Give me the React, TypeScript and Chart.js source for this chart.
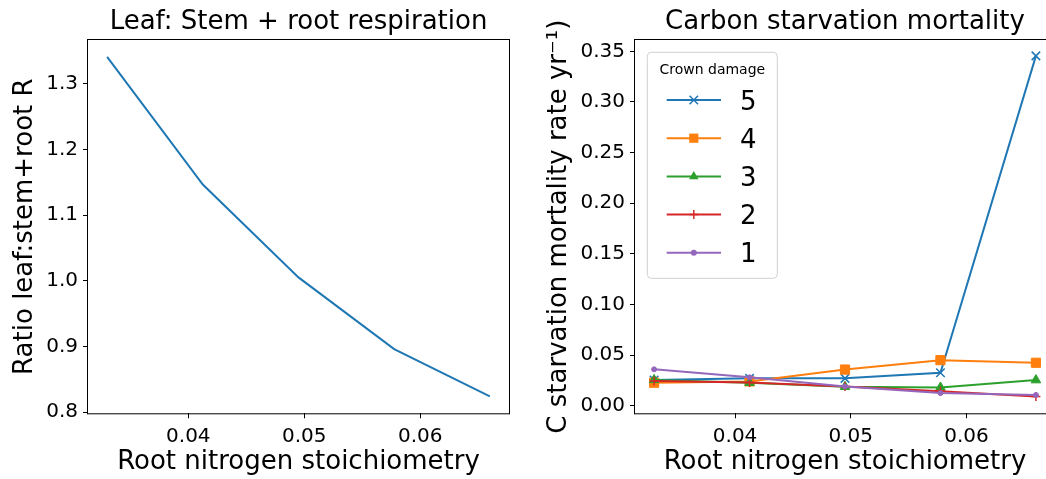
import React, { useEffect, useRef } from "react";
import { Chart, registerables } from "chart.js";

Chart.register(...registerables);

const FONT = "DejaVu Sans";
const BIG = 26;
const TICK = 20;

// ---- data ----
const rootN = [0.033, 0.04125, 0.0495, 0.05775, 0.066];
const leafRatio = [1.3405, 1.1465, 1.0052, 0.896, 0.8242];

const crownLabels = ["5", "4", "3", "2", "1"];
const crown5 = [0.0253, 0.027, 0.027, 0.0326, 0.3455];
const crown4 = [0.0227, 0.024, 0.0357, 0.045, 0.0424];
const crown3 = [0.0255, 0.0227, 0.0188, 0.018, 0.0253];
const crown2 = [0.0244, 0.023, 0.019, 0.0143, 0.009];
const crown1 = [0.0359, 0.028, 0.019, 0.0125, 0.0105];

const xTicks = [0.04, 0.05, 0.06];
const leftYTicks = [0.8, 0.9, 1.0, 1.1, 1.2, 1.3];
const rightYTicks = [0.0, 0.05, 0.1, 0.15, 0.2, 0.25, 0.3, 0.35];

const leftTitle = "Leaf: Stem + root respiration";
const rightTitle = "Carbon starvation mortality";
const xLabel = "Root nitrogen stoichiometry";
const leftYLabel = "Ratio leaf:stem+root R";
const rightYLabel = "C starvation mortality rate yr\u207B\u00B9)";
const legendTitle = "Crown damage";

const colors = ["#1f77b4", "#ff7f0e", "#2ca02c", "#d62728", "#9467bd"];
const styles = ["crossRot", "rect", "triangle", "cross", "circle"];
const radii = [6, 6.5, 5.5, 4.5, 2.5];

const crownSeries = [crown5, crown4, crown3, crown2, crown1];

const toPts = (ys: number[]) => rootN.map((x, i) => ({ x, y: ys[i] }));

const fixedTicks = (vals: number[]) => (scale: any) => {
  scale.ticks = vals.map((v) => ({ value: v }));
};

const framePlugin = {
  id: "frame",
  afterDatasetsDraw(chart: any, _a: any, opts: any) {
    const { ctx, chartArea } = chart;
    const { left, right, top, bottom } = chartArea;
    ctx.save();
    ctx.strokeStyle = "#000";
    ctx.lineWidth = 1;
    ctx.strokeRect(left - 0.5, top - 0.5, right - left + 1, bottom - top + 1);
    ctx.fillStyle = "#000";
    ctx.font = `${BIG}px "${FONT}"`;
    ctx.textAlign = "center";
    ctx.textBaseline = "alphabetic";
    ctx.fillText(opts.title, (left + right) / 2, 29);
    ctx.restore();
  },
};

function drawMarker(ctx: CanvasRenderingContext2D, style: string, x: number, y: number, r: number, color: string) {
  ctx.save();
  ctx.fillStyle = color;
  ctx.strokeStyle = color;
  ctx.beginPath();
  if (style === "crossRot") {
    const d = r * Math.SQRT1_2;
    ctx.lineWidth = 1.5;
    ctx.moveTo(x - d, y - d);
    ctx.lineTo(x + d, y + d);
    ctx.moveTo(x - d, y + d);
    ctx.lineTo(x + d, y - d);
    ctx.stroke();
  } else if (style === "rect") {
    const s = r * Math.SQRT1_2;
    ctx.rect(x - s, y - s, 2 * s, 2 * s);
    ctx.fill();
  } else if (style === "triangle") {
    ctx.moveTo(x, y - r);
    ctx.lineTo(x + r * Math.sin((2 * Math.PI) / 3), y - r * Math.cos((2 * Math.PI) / 3));
    ctx.lineTo(x + r * Math.sin((4 * Math.PI) / 3), y - r * Math.cos((4 * Math.PI) / 3));
    ctx.closePath();
    ctx.fill();
  } else if (style === "cross") {
    ctx.lineWidth = 1.5;
    ctx.moveTo(x, y - r);
    ctx.lineTo(x, y + r);
    ctx.moveTo(x - r, y);
    ctx.lineTo(x + r, y);
    ctx.stroke();
  } else {
    ctx.arc(x, y, r + 0.5, 0, Math.PI * 2);
    ctx.fill();
  }
  ctx.restore();
}

const legendPlugin = {
  id: "crownLegend",
  afterDatasetsDraw(chart: any) {
    const { ctx, chartArea } = chart;
    const bx = chartArea.left + 12.3;
    const by = chartArea.top + 12.3;
    const bw = 130;
    const bh = 226;
    ctx.save();
    ctx.beginPath();
    if (ctx.roundRect) ctx.roundRect(bx, by, bw, bh, 4);
    else ctx.rect(bx, by, bw, bh);
    ctx.fillStyle = "rgba(255,255,255,0.8)";
    ctx.fill();
    ctx.strokeStyle = "#d0d0d0";
    ctx.lineWidth = 1;
    ctx.stroke();
    ctx.fillStyle = "#000";
    ctx.font = `14px "${FONT}"`;
    ctx.textAlign = "center";
    ctx.textBaseline = "alphabetic";
    ctx.fillText(legendTitle, bx + bw / 2, by + 22);
    crownLabels.forEach((lab, i) => {
      const y = by + 47.7 + i * 38.2;
      ctx.strokeStyle = colors[i];
      ctx.lineWidth = 2;
      ctx.beginPath();
      ctx.moveTo(bx + 19.4, y);
      ctx.lineTo(bx + 73.7, y);
      ctx.stroke();
      drawMarker(ctx, styles[i], bx + 46.5, y, radii[i], colors[i]);
      ctx.fillStyle = "#000";
      ctx.font = `${BIG}px "${FONT}"`;
      ctx.textAlign = "left";
      ctx.fillText(lab, bx + 92.7, y + 9.5);
    });
    ctx.restore();
  },
};

function axisCommon() {
  return {
    grid: {
      display: true,
      drawOnChartArea: false,
      drawTicks: true,
      tickLength: 5,
      color: "#000",
      lineWidth: 1,
    },
    border: { display: false },
  };
}

function xScale() {
  return {
    type: "linear",
    min: 0.03135,
    max: 0.06765,
    afterBuildTicks: fixedTicks(xTicks),
    afterFit: (s: any) => {
      s.height = 65.7;
    },
    ticks: {
      color: "#000",
      font: { family: FONT, size: TICK },
      padding: 6,
      maxRotation: 0,
      callback: (v: any) => Number(v).toFixed(2),
    },
    title: {
      display: true,
      text: xLabel,
      color: "#000",
      font: { family: FONT, size: BIG },
      padding: { top: 0, bottom: 0.9 },
    },
    ...axisCommon(),
  };
}

export default function App() {
  const leftRef = useRef<HTMLCanvasElement>(null);
  const rightRef = useRef<HTMLCanvasElement>(null);

  useEffect(() => {
    const left = new Chart(leftRef.current!, {
      type: "line",
      data: {
        datasets: [
          {
            data: toPts(leafRatio),
            borderColor: colors[0],
            backgroundColor: colors[0],
            borderWidth: 2,
            pointRadius: 0,
            tension: 0,
          },
        ],
      },
      options: {
        animation: false,
        responsive: false,
        devicePixelRatio: 1,
        layout: { padding: { top: 40, right: 11, bottom: 0, left: 0 } },
        plugins: {
          legend: { display: false },
          tooltip: { enabled: false },
          frame: { title: leftTitle },
        } as any,
        scales: {
          x: xScale(),
          y: {
            type: "linear",
            min: 0.7984,
            max: 1.3663,
            afterBuildTicks: fixedTicks(leftYTicks),
            afterFit: (s: any) => {
              s.width = 88;
            },
            ticks: {
              color: "#000",
              font: { family: FONT, size: TICK },
              padding: 5,
              callback: (v: any) => Number(v).toFixed(1),
            },
            title: {
              display: true,
              text: leftYLabel,
              color: "#000",
              font: { family: FONT, size: BIG },
              padding: { top: 9.9, bottom: 0 },
            },
            ...axisCommon(),
          },
        } as any,
      },
      plugins: [framePlugin],
    });

    const right = new Chart(rightRef.current!, {
      type: "line",
      data: {
        datasets: crownSeries.map((ys, i) => ({
          label: crownLabels[i],
          data: toPts(ys),
          borderColor: colors[i],
          backgroundColor: colors[i],
          pointBackgroundColor: colors[i],
          pointBorderColor: colors[i],
          pointStyle: styles[i] as any,
          pointRadius: radii[i],
          pointBorderWidth: styles[i] === "crossRot" || styles[i] === "cross" ? 1.5 : 1,
          borderWidth: 2,
          tension: 0,
          order: 5 - i,
          clip: false as any,
        })),
      },
      options: {
        animation: false,
        responsive: false,
        devicePixelRatio: 1,
        layout: { padding: { top: 40, right: 10, bottom: 0, left: 0 } },
        plugins: {
          legend: { display: false },
          tooltip: { enabled: false },
          frame: { title: rightTitle },
        } as any,
        scales: {
          x: xScale(),
          y: {
            type: "linear",
            min: -0.0075,
            max: 0.3612,
            afterBuildTicks: fixedTicks(rightYTicks),
            afterFit: (s: any) => {
              s.width = 115;
            },
            ticks: {
              color: "#000",
              font: { family: FONT, size: TICK },
              padding: 5,
              callback: (v: any) => Number(v).toFixed(2),
            },
            title: {
              display: true,
              text: rightYLabel,
              color: "#000",
              font: { family: FONT, size: BIG },
              padding: { top: 23.9, bottom: 0 },
            },
            ...axisCommon(),
          },
        } as any,
      },
      plugins: [framePlugin, legendPlugin],
    });

    return () => {
      left.destroy();
      right.destroy();
    };
  }, []);

  return (
    <div
      style={{
        position: "fixed",
        left: 0,
        top: 0,
        width: 1046,
        height: 479,
        overflow: "hidden",
        background: "#fff",
      }}
    >
      <canvas
        ref={leftRef}
        width={520}
        height={479}
        style={{ position: "absolute", left: 0, top: 0, width: 520, height: 479 }}
      />
      <canvas
        ref={rightRef}
        width={545}
        height={479}
        style={{ position: "absolute", left: 520, top: 0, width: 545, height: 479 }}
      />
    </div>
  );
}
